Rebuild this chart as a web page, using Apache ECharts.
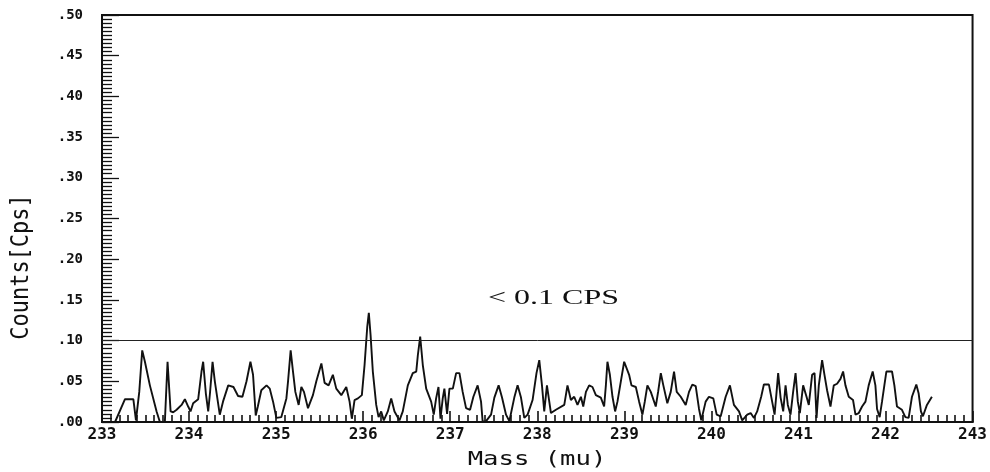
<!DOCTYPE html>
<html>
<head>
<meta charset="utf-8">
<script src="https://cdn.jsdelivr.net/npm/echarts@6/dist/echarts.min.js"></script>
<style>
  html, body { margin: 0; padding: 0; background: #fff; }
  #chart { width: 990px; height: 472px; }
</style>
</head>
<body>
<div id="chart"></div>
<script>
// mass axis ticks and count axis ticks
var xTickLabels = ['233', '234', '235', '236', '237', '238', '239', '240', '241', '242', '243'];
var yTickLabels = ['.00', '.05', '.10', '.15', '.20', '.25', '.30', '.35', '.40', '.45', '.50'];

// scan trace (mass in mu, counts in cps)
var masses = [
  233.15, 233.264, 233.36, 233.39, 233.428, 233.462, 233.493, 233.55, 233.627, 233.665,
  233.722, 233.753, 233.788, 233.818, 233.857, 233.914, 233.952, 233.99, 234.017, 234.047,
  234.105, 234.143, 234.162, 234.193, 234.22, 234.24, 234.27, 234.296, 234.353, 234.39,
  234.45, 234.51, 234.563, 234.613, 234.66, 234.705, 234.735, 234.766, 234.79, 234.83,
  234.89, 234.927, 234.965, 235.003, 235.06, 235.118, 235.137, 235.167, 235.194, 235.221,
  235.259, 235.29, 235.32, 235.366, 235.423, 235.462, 235.52, 235.557, 235.603, 235.652,
  235.691, 235.749, 235.806, 235.844, 235.87, 235.901, 235.94, 235.985, 236.016, 236.047,
  236.065, 236.085, 236.111, 236.15, 236.177, 236.207, 236.237, 236.283, 236.322, 236.36,
  236.417, 236.455, 236.513, 236.57, 236.61, 236.628, 236.655, 236.685, 236.724, 236.781,
  236.811, 236.838, 236.865, 236.888, 236.914, 236.933, 236.964, 236.991, 237.03, 237.068,
  237.106, 237.143, 237.182, 237.228, 237.266, 237.315, 237.354, 237.373, 237.412, 237.469,
  237.507, 237.556, 237.595, 237.641, 237.679, 237.736, 237.774, 237.813, 237.851, 237.889,
  237.946, 237.991, 238.023, 238.054, 238.08, 238.111, 238.138, 238.157, 238.214, 238.31,
  238.347, 238.386, 238.424, 238.462, 238.501, 238.528, 238.559, 238.596, 238.634, 238.673,
  238.73, 238.768, 238.788, 238.806, 238.834, 238.864, 238.894, 238.921, 238.96, 238.998,
  239.02, 239.055, 239.082, 239.132, 239.17, 239.208, 239.235, 239.265, 239.304, 239.361,
  239.388, 239.419, 239.448, 239.494, 239.533, 239.571, 239.602, 239.648, 239.705, 239.743,
  239.781, 239.82, 239.858, 239.884, 239.934, 239.972, 240.022, 240.061, 240.107, 240.164,
  240.213, 240.259, 240.317, 240.354, 240.412, 240.451, 240.489, 240.526, 240.572, 240.603,
  240.661, 240.698, 240.726, 240.749, 240.767, 240.795, 240.825, 240.852, 240.878, 240.909,
  240.939, 240.967, 240.993, 241.016, 241.054, 241.093, 241.119, 241.157, 241.185, 241.208,
  241.234, 241.272, 241.299, 241.329, 241.368, 241.406, 241.444, 241.483, 241.513, 241.54,
  241.578, 241.627, 241.655, 241.693, 241.731, 241.77, 241.807, 241.853, 241.884, 241.903,
  241.933, 241.96, 241.987, 242.01, 242.075, 242.102, 242.132, 242.189, 242.228, 242.266,
  242.304, 242.354, 242.381, 242.407, 242.43, 242.476, 242.533
];
var counts = [
  0.000, 0.028, 0.028, 0.002, 0.037, 0.088, 0.074, 0.045, 0.013, 0.000,
  0.000, 0.074, 0.013, 0.012, 0.015, 0.021, 0.028, 0.019, 0.013, 0.023,
  0.028, 0.062, 0.074, 0.035, 0.013, 0.035, 0.074, 0.050, 0.009, 0.025,
  0.045, 0.043, 0.032, 0.031, 0.050, 0.074, 0.058, 0.008, 0.019, 0.039,
  0.045, 0.041, 0.025, 0.005, 0.006, 0.029, 0.050, 0.088, 0.062, 0.037,
  0.021, 0.043, 0.037, 0.017, 0.033, 0.050, 0.072, 0.048, 0.045, 0.058,
  0.041, 0.033, 0.043, 0.025, 0.004, 0.027, 0.029, 0.033, 0.070, 0.117,
  0.134, 0.107, 0.062, 0.021, 0.006, 0.013, 0.002, 0.013, 0.029, 0.013,
  0.002, 0.013, 0.045, 0.060, 0.062, 0.082, 0.105, 0.070, 0.041, 0.025,
  0.009, 0.029, 0.043, 0.004, 0.029, 0.041, 0.010, 0.041, 0.041, 0.060,
  0.060, 0.037, 0.017, 0.015, 0.031, 0.045, 0.025, 0.000, 0.001, 0.009,
  0.030, 0.045, 0.030, 0.009, 0.001, 0.030, 0.045, 0.030, 0.005, 0.009,
  0.027, 0.060, 0.076, 0.045, 0.013, 0.045, 0.025, 0.011, 0.015, 0.021,
  0.045, 0.027, 0.031, 0.021, 0.031, 0.019, 0.037, 0.045, 0.043, 0.033,
  0.030, 0.019, 0.045, 0.074, 0.058, 0.031, 0.013, 0.025, 0.050, 0.074,
  0.074, 0.058, 0.045, 0.043, 0.025, 0.009, 0.025, 0.045, 0.037, 0.019,
  0.037, 0.060, 0.045, 0.023, 0.037, 0.062, 0.037, 0.031, 0.021, 0.037,
  0.046, 0.044, 0.016, 0.002, 0.025, 0.031, 0.029, 0.009, 0.007, 0.031,
  0.045, 0.021, 0.013, 0.002, 0.009, 0.011, 0.005, 0.013, 0.031, 0.046,
  0.046, 0.025, 0.009, 0.037, 0.060, 0.030, 0.013, 0.045, 0.021, 0.009,
  0.037, 0.060, 0.025, 0.011, 0.045, 0.031, 0.021, 0.058, 0.060, 0.005,
  0.045, 0.076, 0.058, 0.039, 0.019, 0.045, 0.047, 0.053, 0.062, 0.045,
  0.031, 0.027, 0.009, 0.011, 0.019, 0.025, 0.045, 0.062, 0.045, 0.016,
  0.006, 0.025, 0.045, 0.062, 0.062, 0.045, 0.019, 0.015, 0.006, 0.005,
  0.031, 0.046, 0.035, 0.013, 0.007, 0.021, 0.031
];
var limitValue = 0.1;
var limitText = '< 0.1 CPS';

var trace = masses.map(function (m, i) { return [m, counts[i]]; });

var chart = echarts.init(document.getElementById('chart'));
var ink = '#111';

chart.setOption({
  animation: false,
  backgroundColor: '#fff',
  grid: {
    left: 102, right: 16, top: 15, bottom: 50,
    show: true, borderColor: ink, borderWidth: 2, backgroundColor: 'transparent'
  },
  xAxis: {
    type: 'value', min: 233, max: 243, interval: 1,
    axisLine: { show: true, lineStyle: { color: ink, width: 2 } },
    axisTick: { show: true, inside: true, length: 11, lineStyle: { color: ink, width: 1.6 } },
    minorTick: { show: true, splitNumber: 10, length: 7, lineStyle: { color: ink, width: 1.6 } },
    splitLine: { show: false },
    axisLabel: {
      margin: 5, color: ink, fontFamily: 'DejaVu Sans Mono', fontWeight: 'bold', fontSize: 16,
      formatter: function (v) { return xTickLabels[Math.round(v - 233)]; }
    }
  },
  yAxis: {
    type: 'value', min: 0, max: 0.5, interval: 0.05,
    axisLine: { show: true, lineStyle: { color: ink, width: 2 } },
    axisTick: { show: true, inside: true, length: 17, lineStyle: { color: ink, width: 1.3 } },
    minorTick: { show: true, splitNumber: 10, length: 10, lineStyle: { color: ink, width: 1.3 } },
    splitLine: { show: false },
    axisLabel: {
      margin: 19, color: ink, fontFamily: 'DejaVu Sans Mono', fontWeight: 'bold', fontSize: 14,
      formatter: function (v) { return yTickLabels[Math.round(v / 0.05)]; }
    }
  },
  graphic: [
    {
      type: 'text', x: 537, y: 460, scaleX: 1.28,
      style: { text: 'Mass (mu)', font: '20px "DejaVu Sans Mono"', fill: ink, align: 'center', verticalAlign: 'middle' }
    },
    {
      type: 'text', x: 22, y: 267, rotation: Math.PI / 2, scaleX: 1.1, scaleY: 1.2,
      style: { text: 'Counts[Cps]', font: '20px "DejaVu Sans Mono"', fill: ink, align: 'center', verticalAlign: 'middle' }
    },
    {
      type: 'text', x: 488, y: 299, scaleX: 1.6,
      style: { text: limitText, font: '20px "Liberation Serif"', fill: ink, align: 'left', verticalAlign: 'middle' }
    }
  ],
  series: [{
    type: 'line',
    data: trace,
    showSymbol: false,
    lineStyle: { color: ink, width: 1.9 },
    markLine: {
      silent: true, symbol: 'none', label: { show: false },
      lineStyle: { color: '#222', width: 1, type: 'solid' },
      data: [{ yAxis: limitValue }]
    }
  }]
});
</script>
</body>
</html>
